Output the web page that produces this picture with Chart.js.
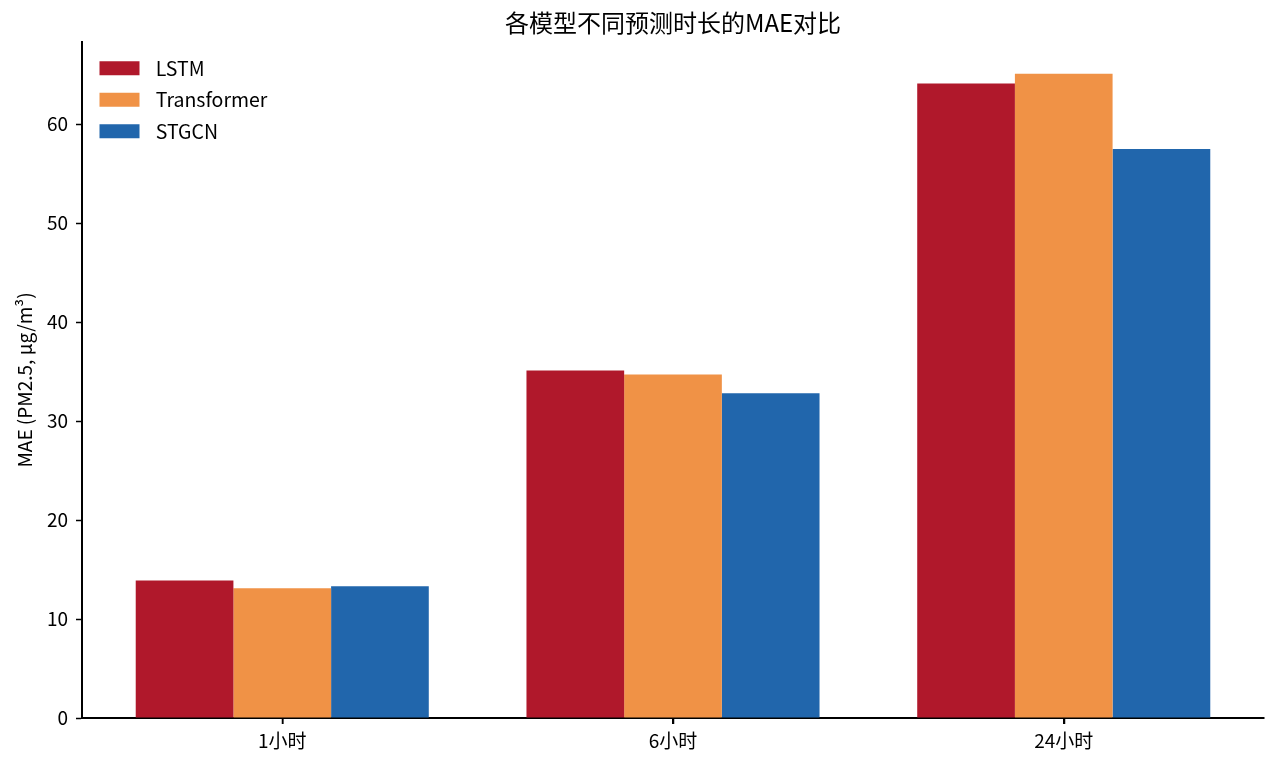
<!DOCTYPE html>
<html>
<head>
<meta charset="utf-8">
<script src="https://cdn.jsdelivr.net/npm/chart.js@4.4.1/dist/chart.umd.min.js"></script>
<style>
  html, body { margin: 0; padding: 0; background: #fff; }
  #wrap { width: 1280px; height: 761px; }
</style>
</head>
<body>
<div id="wrap"><canvas id="c" width="1280" height="761"></canvas></div>
<script>
const categories = ['1小时', '6小时', '24小时'];
const lstmValues = [13.9, 35.1, 64.1];
const transformerValues = [13.1, 34.7, 65.1];
const stgcnValues = [13.3, 32.8, 57.5];
const yTicks = [0, 10, 20, 30, 40, 50, 60];
const chartTitle = '各模型不同预测时长的MAE对比';
const yTitle = 'MAE (PM2.5, μg/m³)';

const FONT = "'Noto Sans CJK SC', 'Noto Sans', sans-serif";
Chart.defaults.font.family = FONT;
Chart.defaults.color = '#000';

function toPoints(arr) { return arr.map((v, i) => ({ x: i, y: v })); }

const legendShift = {
  id: 'legendShift',
  afterLayout(chart) {
    const lg = chart.legend, ca = chart.chartArea;
    if (lg && ca) {
      const h = lg.height;
      lg.left = ca.left + 5.5;
      lg.top = ca.top + 4.5;
      lg.bottom = lg.top + h;
    }
  }
};

// draw category tick marks below the x axis through the x scale
const xTickMarks = {
  id: 'xTickMarks',
  afterDraw(chart) {
    const xs = chart.scales.x, ca = chart.chartArea, ctx = chart.ctx;
    ctx.save();
    ctx.strokeStyle = '#000';
    ctx.lineWidth = 1.5;
    categories.forEach((_, i) => {
      const px = Math.round(xs.getPixelForValue(i)) + 0.5;
      ctx.beginPath();
      ctx.moveTo(px, ca.bottom);
      ctx.lineTo(px, ca.bottom + 6);
      ctx.stroke();
    });
    ctx.restore();
  }
};

new Chart(document.getElementById('c'), {
  type: 'bar',
  data: {
    datasets: [
      { label: 'LSTM', data: toPoints(lstmValues), backgroundColor: '#b0182b' },
      { label: 'Transformer', data: toPoints(transformerValues), backgroundColor: '#f09246' },
      { label: 'STGCN', data: toPoints(stgcnValues), backgroundColor: '#2166ac' }
    ]
  },
  options: {
    responsive: false,
    animation: false,
    devicePixelRatio: 1,
    categoryPercentage: 0.75,
    barPercentage: 1.0,
    layout: { padding: { left: 0, right: 16, top: 0, bottom: 0 } },
    plugins: {
      title: {
        display: true,
        text: chartTitle,
        fullSize: false,
        font: { size: 24, weight: 'normal', family: FONT },
        color: '#000',
        padding: { top: 8, bottom: 5.2 }
      },
      legend: {
        position: 'chartArea',
        align: 'start',
        labels: {
          boxWidth: 40,
          boxHeight: 14,
          padding: 12,
          font: { size: 19.5, family: FONT },
          color: '#000',
          generateLabels(chart) {
            const items = Chart.defaults.plugins.legend.labels.generateLabels(chart);
            items.forEach(it => { it.text = '\u2004' + it.text; it.lineWidth = 0; });
            return items;
          }
        }
      },
      tooltip: { enabled: false }
    },
    scales: {
      x: {
        type: 'linear',
        min: -0.5125,
        max: 2.5125,
        offset: false,
        afterBuildTicks(scale) { scale.ticks = categories.map((_, i) => ({ value: i })); },
        afterFit(scale) { scale.height = 43; },
        grid: { display: true, offset: false, drawOnChartArea: false, drawTicks: true, tickLength: 6, color: '#000', tickColor: '#000', lineWidth: 1.5, tickWidth: 1.5 },
        border: { display: true, color: '#000', width: 2 },
        ticks: {
          autoSkip: false, maxRotation: 0, padding: 5,
          font: { size: 19, family: FONT }, color: '#000',
          callback(v) { return categories[v]; }
        }
      },
      y: {
        type: 'linear',
        min: 0,
        max: 68.3,
        afterBuildTicks(scale) { scale.ticks = yTicks.map(v => ({ value: v })); },
        afterFit(scale) { scale.width = 82; },
        grid: { display: true, drawOnChartArea: false, drawTicks: true, tickLength: 6, tickColor: '#000', tickWidth: 1.5 },
        border: { display: true, color: '#000', width: 2 },
        ticks: { padding: 8, font: { size: 19, family: FONT }, color: '#000' },
        title: {
          display: true, text: yTitle,
          font: { size: 19, family: FONT }, color: '#000',
          padding: { top: 13, bottom: 0 }
        }
      }
    }
  },
  plugins: [legendShift, xTickMarks]
});
</script>
</body>
</html>
